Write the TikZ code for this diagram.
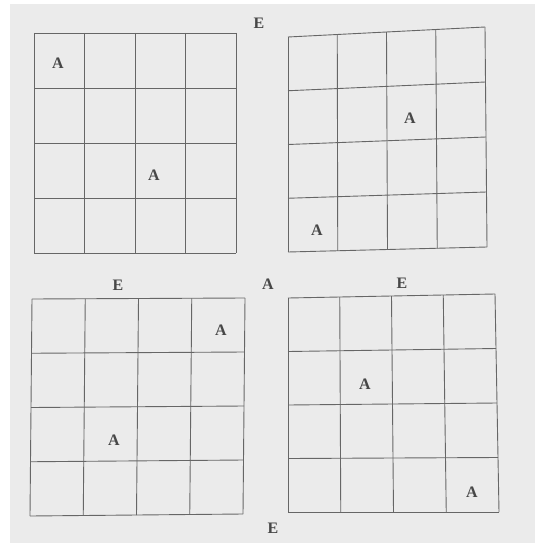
\documentclass[tikz,border=0pt]{standalone}
\usepackage{fontspec}
\setmainfont{Liberation Serif}
\usetikzlibrary{calc}

\begin{document}
\begin{tikzpicture}[x=1pt,y=-1pt,
  ln/.style={draw=black!60,line width=0.9pt},
  lt/.style={font=\fontsize{16}{16}\selectfont\bfseries,text=black!72,inner sep=0pt}]
\fill[white] (0,0) rectangle (535,543);
\fill[black!8] (10,4) rectangle (535,543);
\useasboundingbox (0,0) rectangle (535,543);

% corners of the four grids
\coordinate (a1) at (34,33);   \coordinate (b1) at (236,33);
\coordinate (c1) at (34,253);  \coordinate (d1) at (236,253);
\coordinate (a2) at (288,37);  \coordinate (b2) at (485,27);
\coordinate (c2) at (288,252); \coordinate (d2) at (487,247);
\coordinate (a3) at (32,299);  \coordinate (b3) at (245,298);
\coordinate (c3) at (30,516);  \coordinate (d3) at (243,514);
\coordinate (a4) at (288,298); \coordinate (b4) at (495,294);
\coordinate (c4) at (288,512); \coordinate (d4) at (499,512);

\foreach \g in {1,2,3,4}{
  \foreach \i in {0,...,4}{
    \draw[ln] ($(a\g)!{\i/4}!(b\g)$) -- ($(c\g)!{\i/4}!(d\g)$);
    \draw[ln] ($(a\g)!{\i/4}!(c\g)$) -- ($(b\g)!{\i/4}!(d\g)$);
  }
}

% outside letters
\node[lt] (eT) at (259,23)  {E};
\node[lt] (eL) at (118,285) {E};
\node[lt] (aM) at (268,284) {A};
\node[lt] (eR) at (402,283) {E};
\node[lt] (eB) at (273,528) {E};

% letters in the cells
\node[lt] (g1a) at (58,63)   {A};
\node[lt] (g1b) at (154,175) {A};
\node[lt] (g2a) at (410,118) {A};
\node[lt] (g2b) at (317,230) {A};
\node[lt] (g3a) at (221,330) {A};
\node[lt] (g3b) at (114,440) {A};
\node[lt] (g4a) at (365,384) {A};
\node[lt] (g4b) at (472,492) {A};
\end{tikzpicture}
\end{document}
